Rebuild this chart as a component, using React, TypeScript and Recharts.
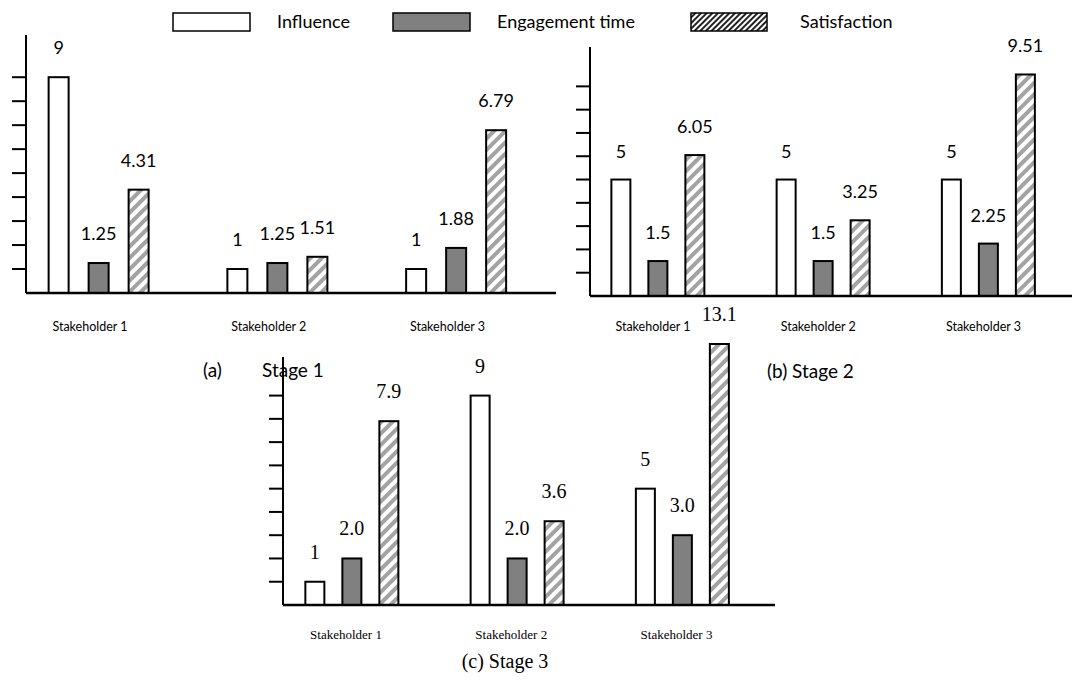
import React from 'react';
import { BarChart, Bar, XAxis, YAxis, LabelList, ReferenceLine } from 'recharts';

// shared categories / ticks
const stakeholders = ['Stakeholder 1', 'Stakeholder 2', 'Stakeholder 3'];
const positions = [1, 2, 3];
const yTicks = [1, 2, 3, 4, 5, 6, 7, 8, 9];
const seriesNames = ['Influence', 'Engagement time', 'Satisfaction'];

// (a) Stage 1
const stage1Influence = [9, 1, 1];
const stage1Engagement = [1.25, 1.25, 1.88];
const stage1Satisfaction = [4.31, 1.51, 6.79];

// (b) Stage 2
const stage2Influence = [5, 5, 5];
const stage2Engagement = [1.5, 1.5, 2.25];
const stage2Satisfaction = [6.05, 3.25, 9.51];

// (c) Stage 3
const stage3Influence = [1, 9, 5];
const stage3Engagement = [2.0, 2.0, 3.0];
const stage3Satisfaction = [7.9, 3.6, 13.1];

const rows = (inf: number[], eng: number[], sat: number[]) =>
  positions.map((p, i) => ({
    pos: p,
    name: stakeholders[i],
    influence: inf[i],
    engagement: eng[i],
    satisfaction: sat[i],
  }));

const SANS = 'Lato, "Open Sans", sans-serif';
const SERIF = '"Liberation Serif", "DejaVu Serif", serif';

type PanelProps = {
  data: any[];
  id: string;
  left: number;
  top: number;
  width: number;
  height: number;
  margin: { top: number; right: number; bottom: number; left: number };
  yAxisWidth: number;
  xDomain: [number, number];
  yMax: number;
  yLineMax?: number;
  barSize: number;
  barGap: number;
  font: string;
  labelSize: number;
  labelOffset: number;
  tickSize: number;
  tickDx: number;
  tickDy: number;
  engFormat?: (v: number) => string;
};

function Panel(p: PanelProps) {
  const clampTop = p.margin.top + 1;

  // bars taller than the axis are cut at the top of the plot
  const barShape = (props: any) => {
    const { x, y, width, height, fill } = props;
    const y0 = Math.max(y, clampTop);
    const h = y + height - y0;
    if (!(h > 0)) return <g />;
    return <rect x={x} y={y0} width={width} height={h} fill={fill} stroke="#000" strokeWidth={2} />;
  };

  const valueLabel = (fmt?: (v: number) => string) => (props: any) => {
    const vb = props.viewBox || props;
    const x = Number(vb.x ?? props.x);
    const y = Number(vb.y ?? props.y);
    const w = Number(vb.width ?? props.width);
    const v = Number(props.value);
    return (
      <text
        x={x + w / 2}
        y={Math.max(y, clampTop) - p.labelOffset}
        textAnchor="middle"
        fontFamily={p.font}
        fontSize={p.labelSize}
        fill="#000"
      >
        {fmt ? fmt(v) : String(v)}
      </text>
    );
  };

  const xTick = (props: any) => (
    <text
      x={props.x + p.tickDx}
      y={props.y + p.tickDy}
      textAnchor="middle"
      fontFamily={p.font}
      fontSize={p.tickSize}
      fill="#000"
    >
      {stakeholders[props.payload.value - 1]}
    </text>
  );

  return (
    <div style={{ position: 'absolute', left: p.left, top: p.top }}>
      <BarChart
        width={p.width}
        height={p.height}
        data={p.data}
        margin={p.margin}
        barSize={p.barSize}
        barGap={p.barGap}
      >
        <defs>
          <pattern id={p.id} width={8} height={8} patternUnits="userSpaceOnUse" patternTransform="rotate(45)">
            <rect x={0} y={0} width={8} height={8} fill="#fff" />
            <rect x={0} y={0} width={4} height={8} fill="#a3a3a3" />
          </pattern>
        </defs>
        <XAxis
          type="number"
          dataKey="pos"
          domain={p.xDomain}
          allowDataOverflow
          ticks={positions}
          interval={0}
          tickLine={false}
          tickSize={0}
          tickMargin={0}
          height={45}
          axisLine={{ stroke: '#000', strokeWidth: 2.5 }}
          tick={xTick}
        />
        <YAxis
          type="number"
          domain={[0, p.yMax]}
          allowDataOverflow
          ticks={yTicks}
          interval={0}
          width={p.yAxisWidth}
          tickSize={14}
          tickFormatter={() => ''}
          axisLine={p.yLineMax ? false : { stroke: '#000', strokeWidth: 2 }}
          tickLine={{ stroke: '#000', strokeWidth: 2 }}
        />
        {p.yLineMax ? (
          <ReferenceLine
            segment={[
              { x: p.xDomain[0], y: 0 },
              { x: p.xDomain[0], y: p.yLineMax },
            ]}
            stroke="#000"
            strokeWidth={2}
            ifOverflow="visible"
          />
        ) : null}
        <Bar dataKey="influence" name={seriesNames[0]} fill="#fff" shape={barShape} isAnimationActive={false}>
          <LabelList dataKey="influence" content={valueLabel()} />
        </Bar>
        <Bar dataKey="engagement" name={seriesNames[1]} fill="#808080" shape={barShape} isAnimationActive={false}>
          <LabelList dataKey="engagement" content={valueLabel(p.engFormat)} />
        </Bar>
        <Bar dataKey="satisfaction" name={seriesNames[2]} fill={`url(#${p.id})`} shape={barShape} isAnimationActive={false}>
          <LabelList dataKey="satisfaction" content={valueLabel()} />
        </Bar>
      </BarChart>
    </div>
  );
}

function Overlay() {
  return (
    <svg
      width={1072}
      height={691}
      style={{ position: 'absolute', left: 0, top: 0, pointerEvents: 'none' }}
    >
      <defs>
        <pattern id="legendHatch" width={4} height={4} patternUnits="userSpaceOnUse" patternTransform="rotate(45)">
          <rect x={0} y={0} width={4} height={4} fill="#fff" />
          <rect x={0} y={0} width={2} height={4} fill="#222" />
        </pattern>
      </defs>
      {/* legend */}
      <rect x={173} y={13} width={77} height={18} fill="#fff" stroke="#000" strokeWidth={1.5} />
      <text x={277} y={28} fontFamily={SANS} fontSize={18} fill="#000">{seriesNames[0]}</text>
      <rect x={393} y={13} width={77} height={18} fill="#808080" stroke="#000" strokeWidth={1.5} />
      <text x={497} y={28} fontFamily={SANS} fontSize={18} fill="#000">{seriesNames[1]}</text>
      <rect x={691} y={13} width={76} height={18} fill="url(#legendHatch)" stroke="#000" strokeWidth={1.5} />
      <text x={800} y={28} fontFamily={SANS} fontSize={18} fill="#000">{seriesNames[2]}</text>

      {/* captions */}
      <text x={203} y={377} fontFamily={SANS} fontSize={19} fill="#000">(a)</text>
      <text x={262} y={377} fontFamily={SANS} fontSize={19} fill="#000">Stage 1</text>
      <text x={767} y={378} fontFamily={SANS} fontSize={19} fill="#000">(b) Stage 2</text>
      <text x={505} y={668} textAnchor="middle" fontFamily={SERIF} fontSize={20} fill="#000">(c) Stage 3</text>
    </svg>
  );
}

export default function App() {
  return (
    <div style={{ position: 'absolute', left: 0, top: 0, width: 1072, height: 691, background: '#fff', overflow: 'hidden' }}>
      <Panel
        id="hatchA"
        data={rows(stage1Influence, stage1Engagement, stage1Satisfaction)}
        left={0}
        top={0}
        width={560}
        height={338}
        margin={{ top: 35, right: 4, bottom: 0, left: 0 }}
        yAxisWidth={26}
        xDomain={[0.5916, 3.5566]}
        yMax={10.76}
        barSize={20}
        barGap={20}
        font={SANS}
        labelSize={18}
        labelOffset={23}
        tickSize={12.5}
        tickDx={-9}
        tickDy={38}
      />
      <Panel
        id="hatchB"
        data={rows(stage2Influence, stage2Engagement, stage2Satisfaction)}
        left={560}
        top={0}
        width={512}
        height={341}
        margin={{ top: 47, right: 0, bottom: 0, left: 0 }}
        yAxisWidth={30}
        xDomain={[0.5885, 3.5053]}
        yMax={10.69}
        barSize={19}
        barGap={18}
        font={SANS}
        labelSize={18}
        labelOffset={22}
        tickSize={12.5}
        tickDx={-5}
        tickDy={35}
      />
      <Panel
        id="hatchC"
        data={rows(stage3Influence, stage3Engagement, stage3Satisfaction)}
        left={240}
        top={300}
        width={560}
        height={350}
        margin={{ top: 43, right: 25, bottom: 0, left: 0 }}
        yAxisWidth={43}
        xDomain={[0.5825, 3.5598]}
        yMax={11.26}
        yLineMax={10.66}
        barSize={19}
        barGap={18}
        font={SERIF}
        labelSize={20}
        labelOffset={23}
        tickSize={13}
        tickDx={-6}
        tickDy={34}
        engFormat={(v) => v.toFixed(1)}
      />
      <Overlay />
    </div>
  );
}
